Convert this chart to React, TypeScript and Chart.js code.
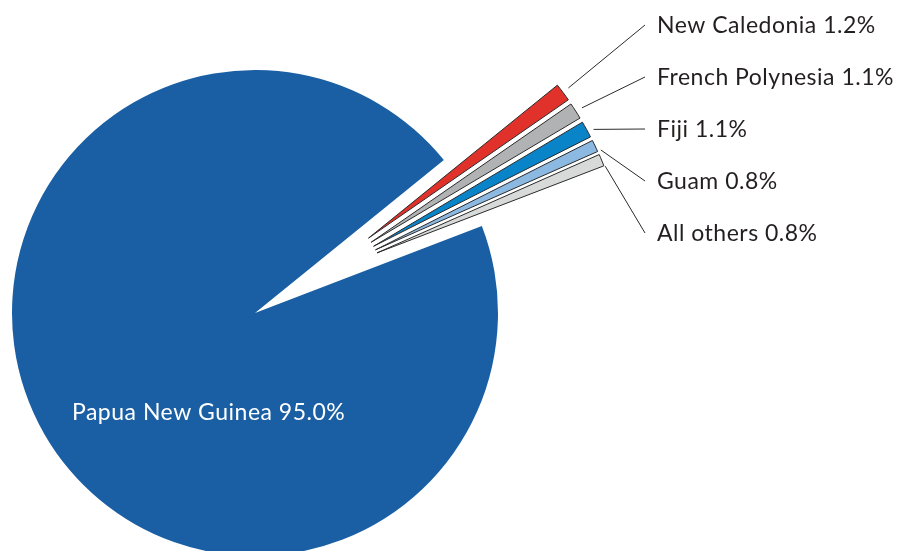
import React, { useEffect, useRef } from 'react';
import { Chart, registerables } from 'chart.js';

Chart.register(...registerables);

// ---- data ----
const categories = ['New Caledonia', 'French Polynesia', 'Fiji', 'Guam', 'All others', 'Papua New Guinea'];
const shares = [1.2, 1.1, 1.1, 0.8, 0.8, 95.0];
const colors = ['#e0312a', '#b0b2b4', '#0a84c9', '#8cb9e2', '#d8dad9', '#1a5fa3'];
const exploded = [true, true, true, true, true, false];

const W = 897;
const H = 551;
const FONT = '400 23px Lato';
const TEXT_COLOR = '#231f20';
const EXPLODE = 136;
const LABEL_X = 657;
const LINE_END_X = 645;
const LABEL_BASE0 = 33;
const LABEL_STEP = 52;

export default function App() {
  const ref = useRef<HTMLCanvasElement | null>(null);

  useEffect(() => {
    const canvas = ref.current;
    if (!canvas) return;

    const explodePlugin = {
      id: 'explodeSlices',
      afterDatasetUpdate(chart: any, args: any) {
        const arcs = args.meta.data as any[];
        const idx = arcs.map((_, i) => i).filter((i) => exploded[i]);
        if (!idx.length) return;
        const gm = (arcs[idx[0]].startAngle + arcs[idx[idx.length - 1]].endAngle) / 2;
        idx.forEach((i) => {
          const a = arcs[i];
          const mid = (a.startAngle + a.endAngle) / 2;
          const dir = gm + 0.5 * (mid - gm);
          a.x = a.x + EXPLODE * Math.cos(dir);
          a.y = a.y + EXPLODE * Math.sin(dir);
        });
      },
    };

    const labelPlugin = {
      id: 'sliceLabels',
      afterDatasetsDraw(chart: any) {
        const ctx = chart.ctx as any;
        const arcs = chart.getDatasetMeta(0).data as any[];
        ctx.save();
        ctx.font = FONT;
        ctx.letterSpacing = '0.5px';
        ctx.textBaseline = 'alphabetic';
        ctx.textAlign = 'left';
        let k = 0;
        arcs.forEach((a, i) => {
          const label = `${categories[i]} ${shares[i].toFixed(1)}%`;
          if (exploded[i]) {
            const by = LABEL_BASE0 + k * LABEL_STEP;
            k++;
            const mid = (a.startAngle + a.endAngle) / 2;
            const ox = a.x + a.outerRadius * Math.cos(mid);
            const oy = a.y + a.outerRadius * Math.sin(mid);
            const ex = LINE_END_X;
            const ey = by - 8;
            const len = Math.hypot(ex - ox, ey - oy);
            const sx = ox + ((ex - ox) / len) * 7;
            const sy = oy + ((ey - oy) / len) * 7;
            ctx.strokeStyle = '#2a2a2a';
            ctx.lineWidth = 1;
            ctx.beginPath();
            ctx.moveTo(sx, sy);
            ctx.lineTo(ex, ey);
            ctx.stroke();
            ctx.fillStyle = TEXT_COLOR;
            ctx.fillText(label, LABEL_X, by);
          } else {
            ctx.fillStyle = '#ffffff';
            ctx.fillText(label, a.x - 183, a.y + 107);
          }
        });
        ctx.restore();
      },
    };

    const chart = new Chart(canvas, {
      type: 'pie',
      data: {
        labels: categories,
        datasets: [
          {
            data: shares,
            backgroundColor: colors,
            borderColor: exploded.map((e) => (e ? '#2a2a2a' : 'rgba(0,0,0,0)')),
            borderWidth: exploded.map((e) => (e ? 1 : 0)),
            clip: false as any,
          },
        ],
      },
      options: {
        responsive: false,
        maintainAspectRatio: false,
        animation: false,
        devicePixelRatio: 1,
        rotation: 51,
        radius: 243,
        layout: { padding: { left: 0, right: 387, top: 75, bottom: 0 } },
        plugins: {
          legend: { display: false },
          title: { display: false },
          tooltip: { enabled: false },
        },
      },
      plugins: [explodePlugin, labelPlugin],
    });

    return () => chart.destroy();
  }, []);

  return (
    <div style={{ position: 'fixed', left: 0, top: 0, width: W, height: H, background: '#fff', overflow: 'hidden' }}>
      <canvas ref={ref} width={W} height={H} style={{ width: W, height: H, display: 'block' }} />
    </div>
  );
}
